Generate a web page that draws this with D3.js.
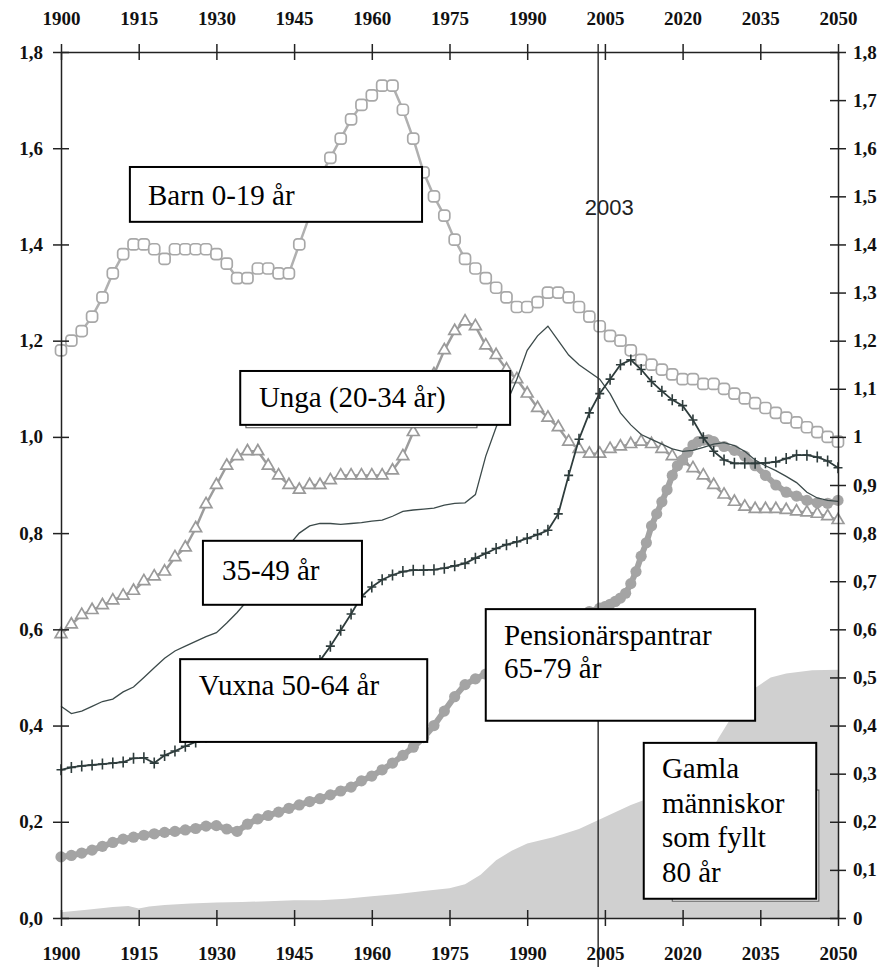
<!DOCTYPE html>
<html lang="sv">
<head>
  <meta charset="UTF-8" />
  <title>Åldersgrupper 1900–2050</title>
  <script src="https://d3js.org/d3.v7.min.js"></script>
  <style>
    body { margin: 0; padding: 0; background: #fff; }
    svg { display: block; }
    .axis text {
      font-family: "Liberation Serif", "DejaVu Serif", serif;
      font-weight: bold;
      font-size: 19px;
      fill: #111;
    }
    .axis path, .axis line { stroke: #222; stroke-width: 1.5; }
    .box-text {
      font-family: "Liberation Serif", "DejaVu Serif", serif;
      font-size: 29px;
      fill: #000;
    }
    .year-text {
      font-family: "Liberation Sans", Arial, sans-serif;
      font-size: 22px;
      fill: #222;
    }
  </style>
</head>
<body>
  <div id="chart"></div>
  <script>
    // sampling grid for the series read every second year
    const years2 = d3.range(1900, 2051, 2);

    const barn = [
      1.18, 1.20, 1.22, 1.25, 1.29, 1.34, 1.38, 1.40, 1.40, 1.39,
      1.37, 1.39, 1.39, 1.39, 1.39, 1.38, 1.36, 1.33, 1.33, 1.35,
      1.35, 1.34, 1.34, 1.40, 1.46, 1.54, 1.58, 1.62, 1.66, 1.69,
      1.71, 1.73, 1.73, 1.68, 1.62, 1.55, 1.50, 1.46, 1.41, 1.37,
      1.35, 1.33, 1.31, 1.29, 1.27, 1.27, 1.28, 1.30, 1.30, 1.29,
      1.27, 1.25, 1.23, 1.21, 1.20, 1.18, 1.16, 1.15, 1.14, 1.13,
      1.12, 1.12, 1.11, 1.11, 1.10, 1.09, 1.08, 1.07, 1.06, 1.05,
      1.04, 1.03, 1.02, 1.01, 1.00, 0.99
    ];

    const unga = [
      0.59, 0.61, 0.63, 0.64, 0.65, 0.66, 0.67, 0.68, 0.70, 0.71,
      0.72, 0.75, 0.77, 0.81, 0.86, 0.90, 0.94, 0.96, 0.97, 0.97,
      0.94, 0.92, 0.90, 0.89, 0.90, 0.90, 0.91, 0.92, 0.92, 0.92,
      0.92, 0.92, 0.93, 0.96, 1.01, 1.07, 1.13, 1.18, 1.22, 1.24,
      1.23, 1.19, 1.17, 1.14, 1.12, 1.09, 1.06, 1.04, 1.02, 0.99,
      0.975, 0.965, 0.965, 0.975, 0.98, 0.985, 0.99, 0.985, 0.975, 0.96,
      0.95, 0.935, 0.92, 0.90, 0.88, 0.865, 0.855, 0.85, 0.85, 0.85,
      0.848, 0.845, 0.843, 0.84, 0.835, 0.827
    ];

    const mellan = [
      0.44, 0.425, 0.43, 0.44, 0.45, 0.455, 0.47, 0.48, 0.50, 0.52,
      0.54, 0.555, 0.565, 0.575, 0.585, 0.593, 0.613, 0.635, 0.66, 0.685,
      0.705, 0.74, 0.775, 0.80, 0.815, 0.82, 0.82, 0.818, 0.82, 0.822,
      0.825, 0.827, 0.835, 0.845, 0.848, 0.85, 0.852, 0.858, 0.862, 0.863,
      0.88, 0.96, 1.02, 1.07, 1.12, 1.18, 1.21, 1.23, 1.20, 1.17,
      1.15, 1.135, 1.12, 1.09, 1.05, 1.025, 1.005, 0.995, 0.985, 0.975,
      0.97, 0.972, 0.978, 0.985, 0.988, 0.982, 0.97, 0.952, 0.94, 0.93,
      0.918, 0.905, 0.885, 0.873, 0.868, 0.866
    ];

    const vuxna = [
      0.308, 0.313, 0.316, 0.318, 0.320, 0.322, 0.324, 0.332, 0.333, 0.322,
      0.338, 0.347, 0.357, 0.366, 0.376, 0.388, 0.40, 0.413, 0.425, 0.44,
      0.452, 0.467, 0.482, 0.50, 0.517, 0.535, 0.565, 0.598, 0.632, 0.668,
      0.688, 0.703, 0.713, 0.72, 0.723, 0.723, 0.724, 0.727, 0.732, 0.737,
      0.748, 0.758, 0.768, 0.776, 0.782, 0.789, 0.797, 0.806, 0.84, 0.92,
      0.995, 1.05, 1.09, 1.12, 1.15, 1.16, 1.14, 1.115, 1.095, 1.077,
      1.065, 1.035, 0.998, 0.97, 0.952, 0.945, 0.945, 0.945, 0.946, 0.948,
      0.955, 0.962, 0.962, 0.958, 0.95, 0.936
    ];

    const pensionYears = [
      1900, 1902, 1904, 1906, 1908, 1910, 1912, 1914, 1916, 1918,
      1920, 1922, 1924, 1926, 1928, 1930, 1932, 1934, 1936, 1938,
      1940, 1942, 1944, 1946, 1948, 1950, 1952, 1954, 1956, 1958,
      1960, 1962, 1964, 1966, 1968, 1970, 1972, 1974, 1976, 1978,
      1980, 1982, 1984, 1986, 1988, 1990, 1992, 1994, 1996, 1998,
      2000, 2002, 2004, 2005, 2006, 2007, 2008, 2009, 2010, 2011,
      2012, 2013, 2014, 2015, 2016, 2017, 2018, 2019, 2020, 2021,
      2022, 2023, 2024, 2025, 2026, 2028, 2030, 2032, 2034, 2036,
      2038, 2040, 2042, 2044, 2046, 2048, 2050
    ];
    const pension = [
      0.127, 0.13, 0.135, 0.141, 0.149, 0.157, 0.164, 0.168, 0.172, 0.175,
      0.178, 0.18, 0.183, 0.186, 0.191, 0.192, 0.185, 0.18, 0.195, 0.206,
      0.213, 0.22, 0.228, 0.235, 0.242, 0.248, 0.256, 0.264, 0.272, 0.285,
      0.295, 0.308, 0.322, 0.338, 0.355, 0.375, 0.40, 0.43, 0.46, 0.485,
      0.497, 0.507, 0.52, 0.535, 0.55, 0.565, 0.58, 0.595, 0.607, 0.618,
      0.628, 0.637, 0.644, 0.647, 0.652, 0.658, 0.665, 0.675, 0.695, 0.72,
      0.752, 0.78, 0.815, 0.84, 0.865, 0.89, 0.92, 0.94, 0.952, 0.968,
      0.983, 0.99, 0.993, 0.994, 0.99, 0.98, 0.972, 0.96, 0.94, 0.92,
      0.90, 0.885, 0.877, 0.868, 0.863, 0.862, 0.868
    ];

    const gamlaYears = [
      1900, 1905, 1910, 1913, 1915, 1917, 1920, 1925, 1930, 1935,
      1940, 1945, 1950, 1955, 1960, 1965, 1970, 1975, 1978, 1981,
      1984, 1987, 1990, 1995, 2000, 2005, 2010, 2015, 2020, 2024,
      2027, 2029, 2031, 2034, 2037, 2040, 2045, 2050
    ];
    const gamla = [
      0.012, 0.017, 0.023, 0.025, 0.02, 0.024, 0.027, 0.03, 0.032, 0.033,
      0.035, 0.037, 0.037, 0.04, 0.045, 0.05, 0.056, 0.062, 0.07, 0.09,
      0.12, 0.14, 0.155, 0.168, 0.185, 0.21, 0.235, 0.255, 0.275, 0.32,
      0.375, 0.41, 0.44, 0.478, 0.50, 0.508, 0.515, 0.516
    ];

    const xTicks = [1900, 1915, 1930, 1945, 1960, 1975, 1990, 2005, 2020, 2035, 2050];
    const leftTicks = [0, 0.2, 0.4, 0.6, 0.8, 1.0, 1.2, 1.4, 1.6, 1.8];
    const rightTicks = [0, 0.1, 0.2, 0.3, 0.4, 0.5, 0.6, 0.7, 0.8, 0.9, 1.0,
                        1.1, 1.2, 1.3, 1.4, 1.5, 1.6, 1.7, 1.8];
    const markerYear = 2003.7;
    const markerLabel = "2003";

    const width = 889, height = 967;
    const x = d3.scaleLinear().domain([1900, 2050]).range([61, 838]);
    const y = d3.scaleLinear().domain([0, 1.8]).range([918, 52]);

    const svg = d3.select("#chart")
      .append("svg")
      .attr("width", width)
      .attr("height", height);

    const zip = (ys, vs) => ys.map((yr, i) => ({ year: yr, value: vs[i] }));

    // oldest group as filled area
    svg.append("path")
      .datum(zip(gamlaYears, gamla))
      .attr("fill", "#d0d0d0")
      .attr("d", d3.area().x(d => x(d.year)).y0(y(0)).y1(d => y(d.value)));

    const line = d3.line().x(d => x(d.year)).y(d => y(d.value));

    // Unga: hollow triangles
    const ungaData = zip(years2, unga);
    svg.append("path").datum(ungaData)
      .attr("fill", "none").attr("stroke", "#9c9c9c").attr("stroke-width", 2.5)
      .attr("d", line);
    svg.append("g").selectAll("path")
      .data(ungaData)
      .enter()
      .append("path")
      .attr("transform", d => `translate(${x(d.year)},${y(d.value)})`)
      .attr("d", d3.symbol(d3.symbolTriangle, 60))
      .attr("fill", "#fff")
      .attr("stroke", "#9a9a9a")
      .attr("stroke-width", 1.7);

    // Barn: hollow rounded squares
    const barnData = zip(years2, barn);
    svg.append("path").datum(barnData)
      .attr("fill", "none").attr("stroke", "#b0b0b0").attr("stroke-width", 2.5)
      .attr("d", line);
    svg.append("g").selectAll("rect")
      .data(barnData)
      .enter()
      .append("rect")
      .attr("x", d => x(d.year) - 5.5)
      .attr("y", d => y(d.value) - 5.5)
      .attr("width", 11)
      .attr("height", 11)
      .attr("rx", 3.5)
      .attr("fill", "#fff")
      .attr("stroke", "#a8a8a8")
      .attr("stroke-width", 1.7);

    // Pensionärspantrar: filled gray dots on a thick gray line
    const pensionData = zip(pensionYears, pension);
    svg.append("path").datum(pensionData)
      .attr("fill", "none").attr("stroke", "#a3a3a3").attr("stroke-width", 6)
      .attr("d", line);
    svg.append("g").selectAll("circle")
      .data(pensionData)
      .enter()
      .append("circle")
      .attr("cx", d => x(d.year))
      .attr("cy", d => y(d.value))
      .attr("r", 5.6)
      .attr("fill", "#a4a4a4");

    // 35-49: thin dark line
    svg.append("path").datum(zip(years2, mellan))
      .attr("fill", "none").attr("stroke", "#3c4a4a").attr("stroke-width", 1.3)
      .attr("d", line);

    // Vuxna: dark line with plus markers
    const vuxnaData = zip(years2, vuxna);
    svg.append("path").datum(vuxnaData)
      .attr("fill", "none").attr("stroke", "#2e3c3c").attr("stroke-width", 1.8)
      .attr("d", line);
    svg.append("g").selectAll("path")
      .data(vuxnaData)
      .enter()
      .append("path")
      .attr("transform", d => `translate(${x(d.year)},${y(d.value)})`)
      .attr("d", "M-4.5,0H4.5M0,-5.5V5.5")
      .attr("stroke", "#2e3c3c")
      .attr("stroke-width", 1.6);

    // vertical marker line
    svg.append("line")
      .attr("x1", x(markerYear)).attr("x2", x(markerYear))
      .attr("y1", y(1.8) - 8).attr("y2", height)
      .attr("stroke", "#333").attr("stroke-width", 1.5);
    svg.append("text")
      .attr("class", "year-text")
      .attr("x", x(markerYear) + 11)
      .attr("y", 215)
      .attr("text-anchor", "middle")
      .text(markerLabel);

    // axes with ticks crossing the frame
    const locale = d3.formatLocale({ decimal: ",", thousands: " ", grouping: [3], currency: ["", ""] });
    const fmtLeft = locale.format(".1f");
    const fmtRight = locale.format(".1~f");

    const gBottom = svg.append("g").attr("class", "axis")
      .attr("transform", `translate(0,${y(0)})`)
      .call(d3.axisBottom(x).tickValues(xTicks).tickFormat(d3.format("d"))
        .tickSize(8).tickSizeOuter(0).tickPadding(21));
    gBottom.selectAll(".tick line").attr("y1", -8);

    const gTop = svg.append("g").attr("class", "axis")
      .attr("transform", `translate(0,${y(1.8)})`)
      .call(d3.axisTop(x).tickValues(xTicks).tickFormat(d3.format("d"))
        .tickSize(8).tickSizeOuter(0).tickPadding(19));
    gTop.selectAll(".tick line").attr("y1", 8);

    const gLeft = svg.append("g").attr("class", "axis")
      .attr("transform", `translate(${x(1900)},0)`)
      .call(d3.axisLeft(y).tickValues(leftTicks).tickFormat(fmtLeft)
        .tickSize(8).tickSizeOuter(0).tickPadding(10));
    gLeft.selectAll(".tick line").attr("x1", 8);

    const gRight = svg.append("g").attr("class", "axis")
      .attr("transform", `translate(${x(2050)},0)`)
      .call(d3.axisRight(y).tickValues(rightTicks).tickFormat(fmtRight)
        .tickSize(8).tickSizeOuter(0).tickPadding(7));
    gRight.selectAll(".tick line").attr("x1", -8);
    gRight.selectAll(".tick text").attr("text-anchor", "start");

    // label boxes, placed in data units
    const boxes = [
      { x0: 1913.3, x1: 1969.7, y0: 1.561, y1: 1.447, tx: 1916.8, lines: ["Barn 0-19 år"], ty: [1.482] },
      { x0: 1934.6, x1: 1986.7, y0: 1.137, y1: 1.025, tx: 1938.2, lines: ["Unga (20-34 år)"], ty: [1.062],
        shadow: { x0: 1935.7, x1: 1980.3, y0: 1.13, y1: 1.019 } },
      { x0: 1927.4, x1: 1958.1, y0: 0.784, y1: 0.651, tx: 1931.1, lines: ["35-49 år"], ty: [0.703] },
      { x0: 1923.0, x1: 1970.7, y0: 0.538, y1: 0.366, tx: 1926.6, lines: ["Vuxna 50-64 år"], ty: [0.464] },
      { x0: 1982.0, x1: 2034.0, y0: 0.642, y1: 0.410, tx: 1985.5, lines: ["Pensionärspantrar", "65-79 år"], ty: [0.568, 0.499] },
      { x0: 2012.5, x1: 2045.8, y0: 0.364, y1: 0.040, tx: 2016.0, lines: ["Gamla", "människor", "som fyllt", "80 år"],
        ty: [0.291, 0.218, 0.148, 0.075],
        shadow: { x0: 2018.0, x1: 2046.3, y0: 0.266, y1: 0.035 } }
    ];

    boxes.forEach(b => {
      if (b.shadow) {
        svg.append("rect")
          .attr("x", x(b.shadow.x0)).attr("y", y(b.shadow.y0))
          .attr("width", x(b.shadow.x1) - x(b.shadow.x0))
          .attr("height", y(b.shadow.y1) - y(b.shadow.y0))
          .attr("fill", "#fff").attr("stroke", "#555").attr("stroke-width", 1);
      }
      svg.append("rect")
        .attr("x", x(b.x0)).attr("y", y(b.y0))
        .attr("width", x(b.x1) - x(b.x0))
        .attr("height", y(b.y1) - y(b.y0))
        .attr("fill", "#fff").attr("stroke", "#000").attr("stroke-width", 2);
      b.lines.forEach((t, i) => {
        svg.append("text")
          .attr("class", "box-text")
          .attr("x", x(b.tx))
          .attr("y", y(b.ty[i]))
          .text(t);
      });
    });
  </script>
</body>
</html>
